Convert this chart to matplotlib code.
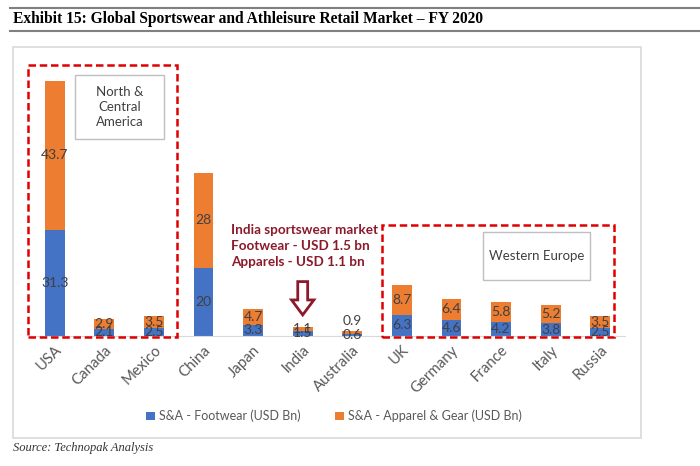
import matplotlib.pyplot as plt
from matplotlib.patches import Rectangle, FancyArrow
from matplotlib.lines import Line2D

# data
countries = ['USA', 'Canada', 'Mexico', 'China', 'Japan', 'India', 'Australia',
             'UK', 'Germany', 'France', 'Italy', 'Russia']
footwear = [31.3, 2.1, 2.5, 20, 3.3, 1.5, 0.6, 6.3, 4.6, 4.2, 3.8, 2.5]
apparel = [43.7, 2.9, 3.5, 28, 4.7, 1.1, 0.9, 8.7, 6.4, 5.8, 5.2, 3.5]
foot_labels = ['31.3', '2.1', '2.5', '20', '3.3', '1.5', '0.6', '6.3', '4.6', '4.2', '3.8', '2.5']
app_labels = ['43.7', '2.9', '3.5', '28', '4.7', '1.1', '0.9', '8.7', '6.4', '5.8', '5.2', '3.5']

blue = '#4472C4'
orange = '#ED7D31'
label_col = '#404040'
red = '#E00000'
maroon = '#8B1A2B'

W, H = 700, 466
fig = plt.figure(figsize=(7, 4.66), dpi=100)

def fx(x):
    return x / W

def fy(y):
    return 1 - y / H

# header rules and title
fig.add_artist(Line2D([fx(10), 1], [fy(8), fy(8)], color='#808080', lw=1.5))
fig.add_artist(Line2D([fx(10), 1], [fy(31), fy(31)], color='#808080', lw=1.5))
fig.text(fx(13), fy(19), 'Exhibit 15: Global Sportswear and Athleisure Retail Market \u2013 FY 2020',
         fontfamily='Liberation Serif', fontweight='bold', fontsize=11.2, va='center', ha='left')

# chart frame
fig.add_artist(Rectangle((fx(13), fy(438)), fx(641 - 13), (438 - 47) / H,
                         transform=fig.transFigure, fill=False, ec='#D9D9D9', lw=1.2))

fig.text(fx(13), fy(448), 'Source: Technopak Analysis', fontfamily='Liberation Serif',
         fontstyle='italic', fontsize=9, va='center', ha='left', color='#333333')

ax = fig.add_axes([fx(30), fy(336), fx(625 - 30), (336 - 64) / H])
x = range(len(countries))
ax.bar(x, footwear, width=0.4, color=blue, label='S&A - Footwear (USD Bn)', zorder=2)
ax.bar(x, apparel, width=0.4, bottom=footwear, color=orange,
       label='S&A - Apparel & Gear (USD Bn)', zorder=2)
ax.set_xlim(-0.5, len(countries) - 0.5)
ax.set_ylim(0, 80)

for s in ['top', 'right', 'left']:
    ax.spines[s].set_visible(False)
ax.spines['bottom'].set_color('#D9D9D9')
ax.set_yticks([])
ax.tick_params(axis='x', length=0, pad=5)
ax.set_xticks(list(x))
ax.set_xticklabels(countries, rotation=45, ha='right', rotation_mode='anchor',
                   fontfamily='Lato', fontsize=10.8, color='#595959')

for i in x:
    ax.text(i, footwear[i] / 2, foot_labels[i], ha='center', va='center',
            fontfamily='Lato', fontsize=10, color=label_col, zorder=3)
    yy = footwear[i] + apparel[i] / 2
    if countries[i] == 'Australia':
        yy = 4.5
    ax.text(i, yy, app_labels[i], ha='center', va='center',
            fontfamily='Lato', fontsize=10, color=label_col, zorder=3)

# region boxes
ax.add_patch(Rectangle((-0.545, -0.3), 3.0, 80.0, fill=False, ec=red, lw=1.8,
                       ls=(0, (3, 1.5)), clip_on=False, zorder=4))
ax.add_patch(Rectangle((6.6, -0.2), 4.67, 32.8, fill=False, ec=red, lw=1.8,
                       ls=(0, (3, 1.5)), clip_on=False, zorder=4))

fig.add_artist(Rectangle((fx(75), fy(139)), fx(164 - 75), (139 - 75) / H,
                         transform=fig.transFigure, fill=False, ec='#BFBFBF', lw=1))
fig.text(fx(119.5), fy(107), 'North &\nCentral\nAmerica', ha='center', va='center',
         fontfamily='Lato', fontsize=9.5, color='#404040', linespacing=1.3)
fig.add_artist(Rectangle((fx(483), fy(280)), fx(590 - 483), (280 - 232) / H,
                         transform=fig.transFigure, fill=False, ec='#BFBFBF', lw=1))
fig.text(fx(536.5), fy(256), 'Western Europe', ha='center', va='center',
         fontfamily='Lato', fontsize=9.5, color='#404040')

# India note and arrow
fig.text(fx(231), fy(246), 'India sportswear market\nFootwear - USD 1.5 bn\nApparels - USD 1.1 bn',
         ha='left', va='center', fontfamily='Lato', fontweight='bold', fontsize=9.7,
         color=maroon, linespacing=1.35)
ax.add_patch(FancyArrow(5, 16.0, 0, -9.8, width=0.2, head_width=0.45, head_length=4.4,
                        length_includes_head=True, fc='white', ec=maroon, lw=2,
                        clip_on=False, zorder=4))

ax.legend(loc='center', bbox_to_anchor=(fx(334), fy(416)), bbox_transform=fig.transFigure,
          ncol=2, frameon=False, prop={'family': 'Lato', 'size': 9}, labelcolor='#595959',
          handlelength=0.7, handleheight=0.7, handletextpad=0.3, columnspacing=2.8)

fig.savefig('out.png', dpi=100)
